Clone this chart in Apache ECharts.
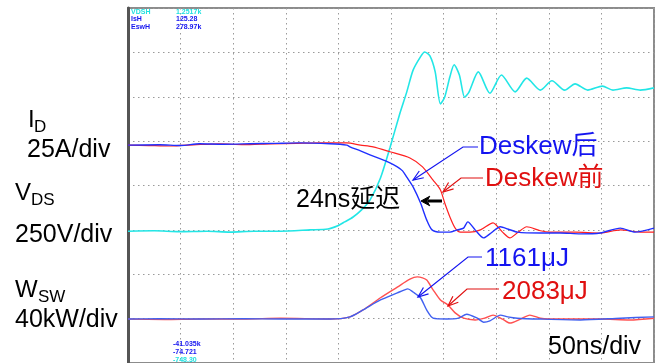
<!DOCTYPE html>
<html>
<head>
<meta charset="utf-8">
<script src="https://cdn.jsdelivr.net/npm/echarts@6/dist/echarts.min.js"></script>
<style>
  html, body { margin: 0; padding: 0; background: #ffffff; }
  #scope { width: 666px; height: 363px; }
</style>
</head>
<body>
<div id="scope"></div>
<script>
// Time axis: 10 divisions of 50 ns; vertical axis: 8 screen divisions.
const timeTicksNs = [0, 50, 100, 150, 200, 250, 300, 350, 400, 450, 500];
const screenDivs = [0, 1, 2, 3, 4, 5, 6, 7, 8];

// V_DS (250 V/div), [time ns, screen div]
const vdsTrace = [
  [0, 2.97], [25, 2.98], [49, 2.96], [75, 2.97], [97, 2.95], [120, 2.97], [145, 2.97],
  [173, 3.0], [190, 3.02], [200, 3.1], [206, 3.18], [214, 3.29], [222, 3.45], [230, 3.67],
  [240, 4.17], [249, 4.85], [258, 5.59], [265, 6.11], [271, 6.6], [278, 6.9], [282, 7.01],
  [287, 6.92], [292, 6.56], [297, 5.84], [301, 5.99], [306, 6.45], [310, 6.72], [315, 6.49],
  [320, 5.99], [324, 6.1], [333, 6.56], [344, 6.08], [355, 6.49], [368, 6.11], [379, 6.42],
  [392, 6.15], [403, 6.36], [415, 6.15], [425, 6.29], [437, 6.15], [451, 6.24], [461, 6.15],
  [474, 6.2], [487, 6.15], [500, 6.2]
];

// I_D (25 A/div) after deskew
const idAfter = [
  [0, 4.91], [30, 4.92], [50, 4.9], [68, 4.94], [90, 4.93], [116, 4.94], [140, 4.95],
  [163, 4.96], [192, 4.94], [208, 4.91], [211, 4.87], [221, 4.78], [230, 4.69], [240, 4.6],
  [249, 4.51], [256, 4.42], [261, 4.33], [265, 4.19], [271, 3.97], [278, 3.61], [284, 3.22],
  [289, 3.0], [297, 2.95], [306, 2.95], [313, 3.0], [319, 3.04], [323, 3.18], [330, 3.0],
  [338, 2.82], [344, 2.91], [354, 3.07], [361, 3.02], [370, 2.95], [392, 2.93], [411, 2.93],
  [430, 2.91], [449, 2.93], [468, 3.04], [482, 2.95], [500, 3.04]
];

// I_D (25 A/div) before deskew
const idBefore = [
  [0, 4.91], [20, 4.9], [40, 4.89], [65, 4.92], [87, 4.94], [110, 4.92], [135, 4.94],
  [160, 4.95], [183, 4.96], [208, 4.96], [221, 4.91], [233, 4.87], [249, 4.76], [268, 4.62],
  [280, 4.42], [290, 4.12], [297, 3.9], [301, 3.61], [306, 3.29], [311, 3.04], [316, 2.95],
  [325, 2.95], [335, 3.0], [347, 3.16], [356, 2.95], [363, 2.82], [371, 2.95], [379, 3.07],
  [392, 2.98], [401, 2.95], [425, 2.95], [449, 2.93], [468, 3.0], [487, 2.95], [500, 2.95]
];

// W_SW (40 kW/div) after deskew
const wswAfter = [
  [0, 0.99], [30, 1.0], [68, 0.99], [110, 1.0], [145, 0.99], [192, 0.99], [211, 1.04],
  [223, 1.19], [240, 1.42], [256, 1.58], [263, 1.65], [266, 1.67], [271, 1.6], [278, 1.47],
  [284, 1.19], [290, 1.01], [303, 0.99], [314, 1.01], [322, 1.1], [332, 1.01], [338, 0.92],
  [344, 0.95], [354, 1.08], [361, 1.04], [370, 1.01], [392, 0.99], [430, 0.97], [468, 1.01],
  [500, 1.04]
];

// W_SW (40 kW/div) before deskew
const wswBefore = [
  [0, 0.99], [35, 0.98], [68, 0.99], [110, 0.99], [145, 1.01], [192, 0.99], [211, 1.04],
  [223, 1.19], [240, 1.47], [256, 1.71], [268, 1.89], [275, 1.94], [280, 1.92], [284, 1.87],
  [290, 1.65], [297, 1.42], [304, 1.31], [311, 1.13], [319, 1.01], [330, 0.97], [339, 1.01],
  [347, 1.08], [356, 0.99], [363, 0.9], [373, 0.99], [382, 1.08], [392, 1.01], [411, 0.99],
  [449, 0.99], [477, 0.97], [500, 1.01]
];

// Scope readouts printed in the corners of the screen
const topReadoutNames = ['VDSH', 'IsH', 'EswH'];
const topReadoutValues = ['1.2517k', '125.28', '278.97k'];
const bottomReadouts = ['-41.035k', '-74.721', '-748.30'];

const FONT = '"Liberation Sans", "Noto Sans CJK SC", sans-serif';
const BLUE = '#1414f0';
const RED = '#e01010';

const chart = echarts.init(document.getElementById('scope'), null, { renderer: 'canvas' });

function trace(name, data, color, width, z) {
  return {
    name, type: 'line', data, smooth: 0.25, symbol: 'none', z,
    lineStyle: { color, width }, animation: false
  };
}

function arrowHead(tip, from, color, len, spread, width, filled) {
  const dx = from[0] - tip[0], dy = from[1] - tip[1];
  const d = Math.hypot(dx, dy);
  const ux = dx / d, uy = dy / d;
  const ca = Math.cos(spread), sa = Math.sin(spread);
  const p1 = [tip[0] + len * (ux * ca - uy * sa), tip[1] + len * (uy * ca + ux * sa)];
  const p2 = [tip[0] + len * (ux * ca + uy * sa), tip[1] + len * (uy * ca - ux * sa)];
  if (filled) {
    return { type: 'polygon', shape: { points: [p1, tip, p2, [tip[0] + ux * len * 0.6, tip[1] + uy * len * 0.6]] },
      style: { fill: color, stroke: color, lineWidth: 1 }, z: 20 };
  }
  return { type: 'polyline', shape: { points: [p1, tip, p2] },
    style: { stroke: color, lineWidth: width, fill: null }, z: 20 };
}

function leader(points, color) {
  const n = points.length;
  return [
    { type: 'polyline', shape: { points }, style: { stroke: color, lineWidth: 1.2, fill: null }, z: 20 },
    arrowHead(points[n - 1], points[n - 2], color, 11, 0.38, 1.2, false)
  ];
}

function label(text, x, y, size, color, align) {
  return { type: 'text', x, y, z: 30,
    style: { text, font: size + 'px ' + FONT, fill: color, align: align || 'left', verticalAlign: 'middle' } };
}

const graphics = [];
// channel scale labels
graphics.push(label('I', 28, 120, 24, '#000'));
graphics.push(label('D', 34, 127, 17, '#000'));
graphics.push(label('25A/div', 27, 150, 25, '#000'));
graphics.push(label('V', 15, 193, 24, '#000'));
graphics.push(label('DS', 31, 200, 17, '#000'));
graphics.push(label('250V/div', 15, 235, 25, '#000'));
graphics.push(label('W', 15, 290, 24, '#000'));
graphics.push(label('SW', 38, 297, 17, '#000'));
graphics.push(label('40kW/div', 15, 320, 25, '#000'));

// annotations
graphics.push(label('Deskew后', 479, 147, 26, BLUE));
graphics.push(...leader([[478, 147], [463, 147], [413, 180]], BLUE));
graphics.push(label('Deskew前', 485, 179, 26, RED));
graphics.push(...leader([[483, 178], [461, 178], [443, 192]], RED));
graphics.push(label('24ns延迟', 296, 200, 25, '#000'));
graphics.push({ type: 'line', shape: { x1: 442, y1: 201, x2: 428, y2: 201 }, style: { stroke: '#000', lineWidth: 3 }, z: 20 });
graphics.push(arrowHead([421, 201], [442, 201], '#000', 10, 0.5, 3, true));
graphics.push(label('1161μJ', 485, 259, 26, BLUE));
graphics.push(...leader([[482, 257], [468, 257], [418, 297]], BLUE));
graphics.push(label('2083μJ', 502, 292, 26, RED));
graphics.push(...leader([[499, 289], [467, 289], [448, 306]], RED));
graphics.push(label('50ns/div', 548, 347, 25, '#000'));

// small readouts
const tiny = 'bold 7px ' + FONT;
const topColors = ['#20e0e0', BLUE, BLUE];
topReadoutNames.forEach((t, i) => {
  graphics.push({ type: 'text', x: 131, y: 12 + i * 7.5, z: 30,
    style: { text: t, font: tiny, fill: topColors[i], verticalAlign: 'middle' } });
  graphics.push({ type: 'text', x: 176, y: 12 + i * 7.5, z: 30,
    style: { text: topReadoutValues[i], font: tiny, fill: topColors[i], verticalAlign: 'middle' } });
});
const bottomColors = [BLUE, BLUE, '#20e0e0'];
bottomReadouts.forEach((t, i) => {
  graphics.push({ type: 'text', x: 173, y: 344 + i * 8, z: 30,
    style: { text: t, font: tiny, fill: bottomColors[i], verticalAlign: 'middle' } });
});

const gridLine = { show: true, lineStyle: { color: '#9a9a9a', width: 1, type: [1.5, 3.5] } };

chart.setOption({
  animation: false,
  backgroundColor: '#ffffff',
  grid: { left: 128, top: 8, width: 526, height: 355, show: true, borderColor: '#8c8c8c', borderWidth: 2, backgroundColor: 'transparent' },
  xAxis: {
    type: 'value', min: timeTicksNs[0], max: timeTicksNs[timeTicksNs.length - 1], interval: 50,
    axisLine: { show: false }, axisTick: { show: false }, axisLabel: { show: false },
    splitLine: gridLine
  },
  yAxis: {
    type: 'value', min: screenDivs[0], max: screenDivs[screenDivs.length - 1], interval: 1,
    axisLine: { show: true, lineStyle: { color: '#555555', width: 3 } },
    axisTick: { show: false }, axisLabel: { show: false },
    splitLine: gridLine
  },
  series: [
    trace('VDS', vdsTrace, '#22e6e6', 1.6, 3),
    trace('ID before', idBefore, '#ff2020', 1.2, 4),
    trace('ID after', idAfter, '#2030ff', 1.4, 5),
    trace('WSW before', wswBefore, '#ff5050', 1.4, 4),
    trace('WSW after', wswAfter, '#4060f0', 1.4, 5)
  ],
  graphic: graphics
});
</script>
</body>
</html>
